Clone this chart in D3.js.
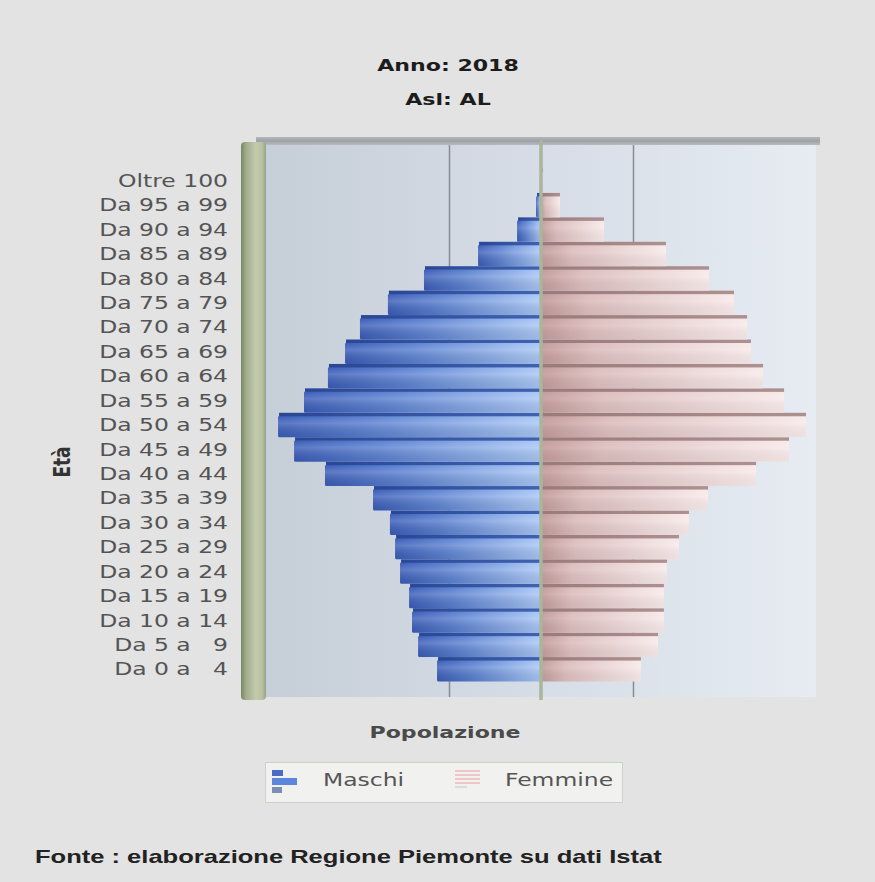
<!DOCTYPE html>
<html>
<head>
<meta charset="utf-8">
<script src="https://cdn.jsdelivr.net/npm/d3@7"></script>
<style>
  html, body { margin: 0; padding: 0; background: #e3e3e3; }
  svg { display: block; }
</style>
</head>
<body>
<svg id="chart" width="875" height="882"></svg>
<script>
// ---------------- DATA ----------------
const ageGroups = [
  "Da 0 a \u20074", "Da 5 a \u20079", "Da 10 a 14", "Da 15 a 19", "Da 20 a 24",
  "Da 25 a 29", "Da 30 a 34", "Da 35 a 39", "Da 40 a 44", "Da 45 a 49",
  "Da 50 a 54", "Da 55 a 59", "Da 60 a 64", "Da 65 a 69", "Da 70 a 74",
  "Da 75 a 79", "Da 80 a 84", "Da 85 a 89", "Da 90 a 94", "Da 95 a 99", "Oltre 100"
];
const maschi = [5650, 6680, 7010, 7170, 7660, 7930, 8210, 9130, 11740, 13420,
                14290, 12880, 11580, 10650, 9840, 8320, 6360, 3420, 1300, 270, 20];
const femmine = [5430, 6360, 6680, 6680, 6850, 7500, 8040, 9080, 11690, 13480,
                 14400, 13210, 12070, 11410, 11200, 10490, 9130, 6790, 3420, 1030, 110];
const gridValues = [-5000, 5000];
const seriesNames = ["Maschi", "Femmine"];
const titleLines = ["Anno: 2018", "Asl: AL"];
const xAxisTitle = "Popolazione";
const yAxisTitle = "Età";
const sourceNote = "Fonte : elaborazione Regione Piemonte su dati Istat";

// ---------------- LAYOUT ----------------
const SX = 1.38; // horizontal text stretch of the reference
const plot = { left: 266, right: 816, top: 145, bottom: 697 };
const svg = d3.select("#chart");
const defs = svg.append("defs");

function grad(id, stops, vertical) {
  const g = defs.append("linearGradient").attr("id", id)
    .attr("x1", 0).attr("y1", 0).attr("x2", vertical ? 0 : 1).attr("y2", vertical ? 1 : 0);
  stops.forEach(([o, c, op]) => g.append("stop").attr("offset", o).attr("stop-color", c)
    .attr("stop-opacity", op == null ? 1 : op));
}
grad("bgPlot", [[0, "#c6ced7"], [0.5, "#d6dde6"], [1, "#e7ecf3"]]);
grad("wall", [[0, "#7a846a"], [0.2, "#a1ac8a"], [0.6, "#c3cbac"], [0.85, "#b7c0a0"], [1, "#98a08a"]]);
grad("topbar", [[0, "#b4b8bc"], [0.5, "#9ea2a6"], [1, "#b8bcc0"]], true);
grad("maleBody", [[0, "#3a5cb8"], [0.35, "#5a80d0"], [1, "#a9c7f6"]]);
grad("maleTop", [[0, "#2a4795"], [1, "#3f62b0"]]);
grad("femBody", [[0, "#c29a9a"], [0.25, "#dcbdbd"], [1, "#f8eaea"]]);
grad("femTop", [[0, "#9a7a7a"], [1, "#ad9090"]]);
grad("shine", [[0, "#ffffff", 0], [0.35, "#ffffff", 0.18], [1, "#000000", 0.06]], true);

const x = d3.scaleLinear().domain([-15000, 15000]).range([265, 817]);
const y = d3.scaleBand().domain(ageGroups.slice().reverse()).range([168.5, 681.5]).padding(0);

function stext(x0, y0, str, opts) {
  const g = svg.append("g").attr("transform", `translate(${x0},${y0}) scale(${SX},1)` + (opts.rotate ? ` rotate(${opts.rotate})` : ""));
  return g.append("text")
    .attr("text-anchor", opts.anchor || "start")
    .attr("dy", opts.dy || 0)
    .attr("font-family", opts.family || "'DejaVu Sans', Verdana, sans-serif")
    .attr("font-size", opts.size)
    .attr("font-weight", opts.weight || "normal")
    .attr("fill", opts.fill || "#555")
    .style("white-space", "pre")
    .text(str);
}

// ---------------- TITLES ----------------
stext(448, 71, titleLines[0], { anchor: "middle", size: 16, weight: "bold", fill: "#1c1c1c" });
stext(448, 105, titleLines[1], { anchor: "middle", size: 16, weight: "bold", fill: "#1c1c1c" });

// ---------------- PLOT FRAME ----------------
svg.append("rect").attr("x", plot.left).attr("y", plot.top)
  .attr("width", plot.right - plot.left).attr("height", plot.bottom - plot.top)
  .attr("fill", "url(#bgPlot)");
svg.append("rect").attr("x", 256).attr("y", 137).attr("width", 564).attr("height", 8)
  .attr("fill", "url(#topbar)");
svg.append("rect").attr("x", 241).attr("y", 142).attr("width", 25).attr("height", 558)
  .attr("rx", 4).attr("fill", "url(#wall)");

// grid lines via axis
const gridAxis = d3.axisBottom(x).tickValues(gridValues)
  .tickSize(-(plot.bottom - plot.top)).tickFormat("");
const gAx = svg.append("g").attr("transform", `translate(0,${plot.bottom})`).call(gridAxis);
gAx.select(".domain").remove();
gAx.selectAll(".tick line").attr("stroke", "#868d95").attr("stroke-width", 1.5);

// ---------------- BARS ----------------
const bw = y.bandwidth();
const rows = ageGroups.map((a, i) => ({ a, m: maschi[i], f: femmine[i] }));
const gb = svg.append("g");
rows.forEach(d => {
  const y0 = y(d.a);
  const xm = x(-d.m), x0 = x(0), xf = x(d.f);
  if (x0 - xm > 0.5) {
    gb.append("rect").attr("x", xm).attr("y", y0 + 3).attr("width", x0 - xm).attr("height", bw - 3)
      .attr("rx", 1.5).attr("fill", "url(#maleBody)");
    gb.append("rect").attr("x", xm).attr("y", y0 + 3).attr("width", x0 - xm).attr("height", bw - 3)
      .attr("fill", "url(#shine)");
    gb.append("rect").attr("x", xm + 1).attr("y", y0).attr("width", x0 - xm - 1).attr("height", 3.5)
      .attr("fill", "url(#maleTop)");
  }
  if (xf - x0 > 0.5) {
    gb.append("rect").attr("x", x0).attr("y", y0 + 3).attr("width", xf - x0).attr("height", bw - 3)
      .attr("fill", "url(#femBody)");
    gb.append("rect").attr("x", x0).attr("y", y0 + 3).attr("width", xf - x0).attr("height", bw - 3)
      .attr("fill", "url(#shine)").attr("opacity", 0.6);
    gb.append("rect").attr("x", x0).attr("y", y0).attr("width", xf - x0).attr("height", 3.5)
      .attr("fill", "url(#femTop)");
  }
});

// center line
svg.append("line").attr("x1", x(0)).attr("x2", x(0)).attr("y1", 140).attr("y2", 700)
  .attr("stroke", "#a9b69a").attr("stroke-width", 3.5);

// ---------------- Y LABELS ----------------
ageGroups.forEach(a => {
  stext(228, y(a) + bw / 2, a, { anchor: "end", size: 17, dy: "0.36em", fill: "#545454" });
});
stext(62, 462, yAxisTitle, { anchor: "middle", size: 17, weight: "bold", rotate: -90, dy: "0.36em", fill: "#333" });

// ---------------- X TITLE ----------------
stext(445, 738, xAxisTitle, { anchor: "middle", size: 16, weight: "bold", fill: "#4a4a4a" });

// ---------------- LEGEND ----------------
svg.append("rect").attr("x", 265.5).attr("y", 762.5).attr("width", 357).attr("height", 40)
  .attr("fill", "#f1f2f0").attr("stroke", "#cdd2c8");
// Maschi icon
const li = svg.append("g");
li.append("rect").attr("x", 272).attr("y", 770).attr("width", 11).attr("height", 6).attr("fill", "#4a6cc4");
li.append("rect").attr("x", 272).attr("y", 778).attr("width", 25).attr("height", 7).attr("fill", "#5b86dc");
li.append("rect").attr("x", 272).attr("y", 787).attr("width", 10).attr("height", 6).attr("fill", "#7a8fb4");
// Femmine icon
[770, 774, 778, 782, 786].forEach((yy, i) => {
  li.append("rect").attr("x", 455).attr("y", yy).attr("width", i < 4 ? 25 : 12).attr("height", 2)
    .attr("fill", i < 4 ? "#efc6c6" : "#dcdcdc");
});
stext(323, 786, seriesNames[0], { size: 17, fill: "#555" });
stext(505, 786, seriesNames[1], { size: 17, fill: "#555" });

// ---------------- SOURCE ----------------
stext(35, 863, sourceNote, { size: 18.5, weight: "bold", fill: "#222",
  family: "'Liberation Sans', Arial, sans-serif" });
</script>
</body>
</html>
